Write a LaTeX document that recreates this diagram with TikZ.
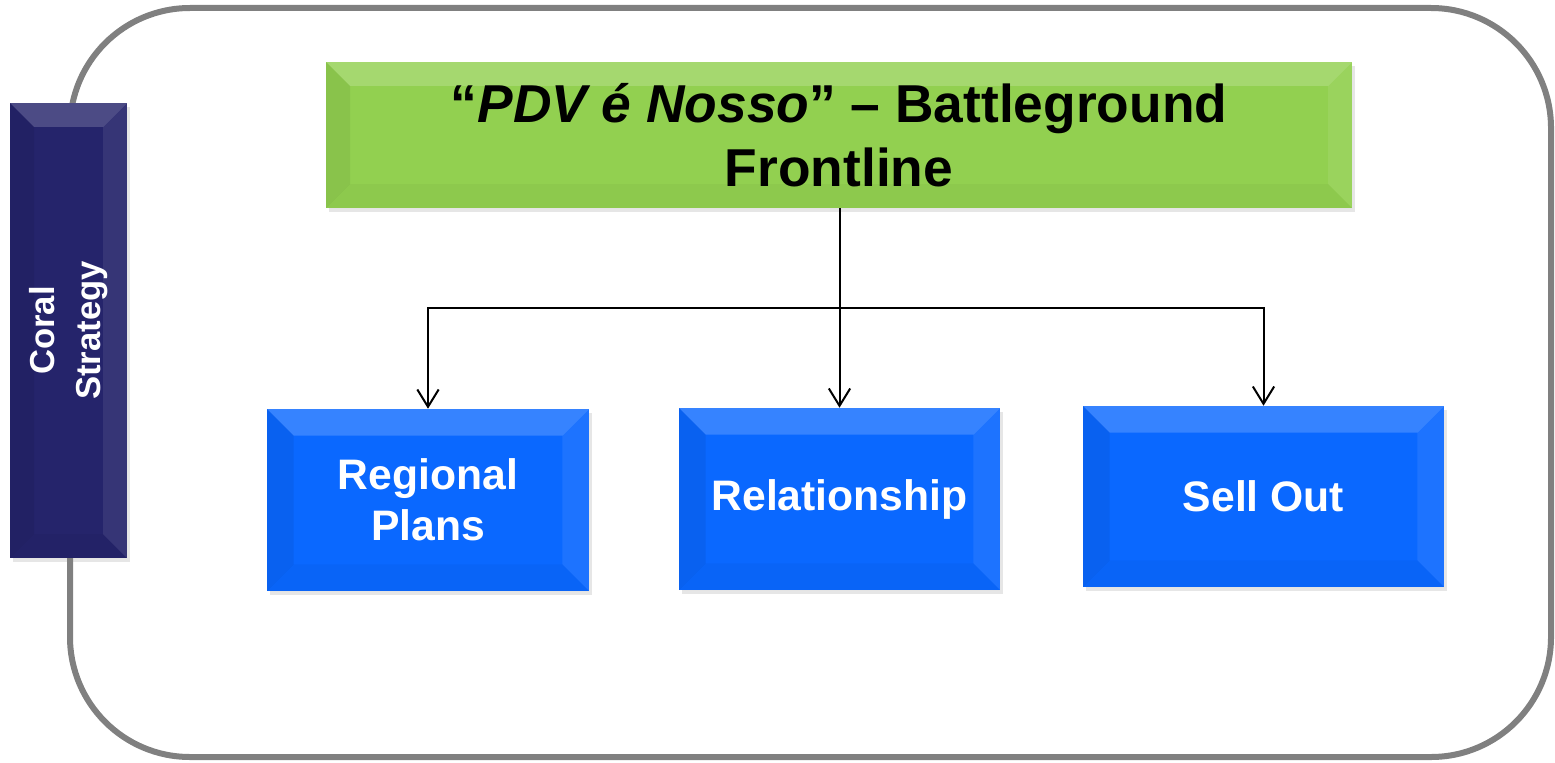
\documentclass[tikz,border=0pt]{standalone}
\usepackage{fontspec}
\setmainfont{Liberation Sans}
\usepackage{graphicx}
\usetikzlibrary{positioning,arrows.meta,shadows}
\definecolor{framegray}{HTML}{808080}
\definecolor{navy}{HTML}{25246B}
\definecolor{leaf}{HTML}{92D050}
\definecolor{azure}{HTML}{0A68FF}
\tikzset{
  bevel/.style={path picture={
    \fill[white,opacity=.18] (path picture bounding box.north west) -- (path picture bounding box.north east)
      -- ([shift={(-#1,-#1)}]path picture bounding box.north east) -- ([shift={(#1,-#1)}]path picture bounding box.north west) -- cycle;
    \fill[white,opacity=.08] (path picture bounding box.north east) -- (path picture bounding box.south east)
      -- ([shift={(-#1,#1)}]path picture bounding box.south east) -- ([shift={(-#1,-#1)}]path picture bounding box.north east) -- cycle;
    \fill[black,opacity=.03] (path picture bounding box.south east) -- (path picture bounding box.south west)
      -- ([shift={(#1,#1)}]path picture bounding box.south west) -- ([shift={(-#1,#1)}]path picture bounding box.south east) -- cycle;
    \fill[black,opacity=.06] (path picture bounding box.south west) -- (path picture bounding box.north west)
      -- ([shift={(#1,-#1)}]path picture bounding box.north west) -- ([shift={(#1,#1)}]path picture bounding box.south west) -- cycle;
  }},
  box/.style={inner sep=0pt, align=center, font=\bfseries, drop shadow={shadow xshift=2pt, shadow yshift=-3pt, opacity=.2}},
  bluebox/.style={box, fill=azure, bevel=20pt, text=white, minimum width=240.75pt, minimum height=136.5pt,
    font=\bfseries\fontsize{32}{38}\selectfont},
  leafbox/.style={box, fill=leaf, bevel=18pt, text=black, minimum width=769.5pt, minimum height=109.5pt,
    font=\bfseries\fontsize{40}{48}\selectfont},
  bar/.style={box, fill=navy, bevel=18pt, text=white, minimum width=87.75pt, minimum height=341.25pt,
    font=\bfseries\fontsize{26}{34}\selectfont},
  link/.style={line width=1.5pt, black},
  tip/.style={-{Straight Barb[length=13pt,width=16pt]}},
}

\begin{document}
\begin{tikzpicture}[x=0.75pt,y=0.75pt,yscale=-1,xscale=1]
\useasboundingbox (0,0) rectangle (1555,763);
%Rounded Rect
\draw[framegray, line width=4.5pt, rounded corners=90pt] (70,8) rectangle (1551,757);
%Side Bar
\node[bar] (coral) at (68.5,330.5) {\rotatebox{90}{\begin{tabular}{@{}c@{}}Coral\\Strategy\end{tabular}}};
%Boxes
\node[leafbox] (pdv) at (839,135) {“\textit{PDV é Nosso}” – Battleground\\Frontline};
\node[bluebox, minimum width=241.5pt] (reg) at (428,500) {Regional\\Plans};
\node[bluebox] (rel) at (839.5,499) {Relationship};
\node[bluebox, minimum width=270.75pt, minimum height=135.75pt] (sell) at (1263.5,496.5) {Sell Out};
%Straight Lines
\coordinate (split) at (840,308);
\draw[link] (pdv.south -| split) -- (split);
\draw[link, tip] (split) -| (reg.north);
\draw[link, tip] (split) -| (sell.north);
\draw[link, tip] (rel.north |- split) -- (rel.north);
\end{tikzpicture}
\end{document}
